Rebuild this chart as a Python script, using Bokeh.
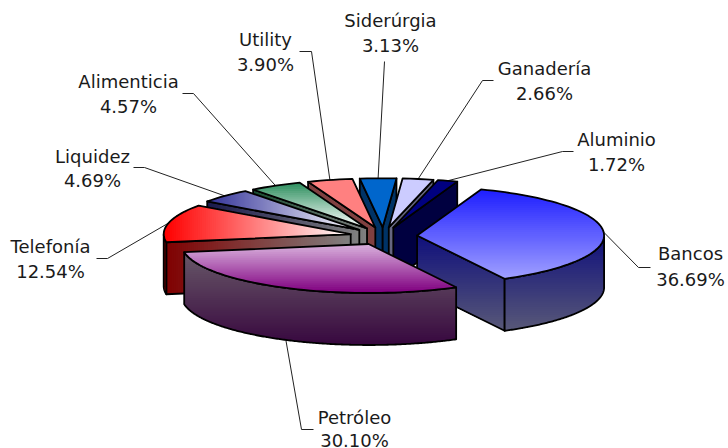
from math import cos, sin, radians
from bokeh.plotting import figure
from bokeh.models import Range1d, ColumnDataSource
from bokeh.core.properties import value
from bokeh.embed import file_html
from bokeh.resources import INLINE

# ---- data -------------------------------------------------------------
names = ["Bancos", "Petróleo", "Telefonía", "Liquidez", "Alimenticia",
         "Utility", "Siderúrgia", "Ganadería", "Aluminio"]
shares = [36.69, 30.10, 12.54, 4.69, 4.57, 3.90, 3.13, 2.66, 1.72]

# ---- style: (first colour, last colour, gradient axis) -------------------
top_fill = [("#1f1fff", "#9f9fff", "y"), ("#d8b0dc", "#800080", "y"),
            ("#ff0000", "#ffffff", "x"), ("#333399", "#ffffff", "x"),
            ("#2f9060", "#ffffff", "y"), ("#ff8080", "#ff8080", "y"),
            ("#0066cc", "#0066cc", "y"), ("#ccccff", "#ccccff", "y"),
            ("#000080", "#000080", "y")]
wall_fill = [("#10107c", "#585878", "y"), ("#685868", "#38083f", "y"),
             ("#800000", "#808080", "x"), ("#1a1a4d", "#808080", "x"),
             ("#184c30", "#808080", "x"), ("#804040", "#804040", "y"),
             ("#003366", "#003366", "y"), ("#666680", "#666680", "y"),
             ("#000040", "#000040", "y")]

# ---- layout -----------------------------------------------------------
W, H = 728, 448
CX, CY, RX, RY, DEPTH, EXPLODE, START = 383.0, 235.6, 187.0, 49.0, 52.0, 0.18, 70.0
label_x = [690, 354, 50, 92, 128, 265, 390, 544, 616]
label_y1 = [252.5, 417, 246, 156, 81, 38.5, 20, 67.5, 139]
line_gap = [26, 23, 25, 24, 25, 25, 25, 25, 25]
elbow_x = [638, 301, 107, 144, 193, 311, 384, 482, 562]
elbow_y = [267, 429, 258, 167, 93, 51, 61, 80, 151]
stub_x = [650, 313, 96, 133, 182, 299, 384, 493, 573]


def clip(poly, axis, limit):
    """Keep the part of a polygon whose axis coordinate is >= limit."""
    out = []
    n = len(poly)
    for i in range(n):
        a, b = poly[i], poly[(i + 1) % n]
        ina, inb = a[axis] >= limit, b[axis] >= limit
        if ina:
            out.append(a)
        if ina != inb:
            f = (limit - a[axis]) / (b[axis] - a[axis])
            out.append((a[0] + f * (b[0] - a[0]), a[1] + f * (b[1] - a[1])))
    return out


def mix(c0, c1, f):
    p = [int(c0[i:i + 2], 16) for i in (1, 3, 5)]
    q = [int(c1[i:i + 2], 16) for i in (1, 3, 5)]
    return "#%02x%02x%02x" % tuple(round(u + f * (v - u)) for u, v in zip(p, q))


xs, ys, fills, falpha, lalpha = [], [], [], [], []


def add(poly, color, fa, la):
    xs.append([q[0] for q in poly])
    ys.append([q[1] for q in poly])
    fills.append(color)
    falpha.append(fa)
    lalpha.append(la)


def shade(poly, style, span=None):
    c0, c1, ax = style
    axis = 0 if ax == "x" else 1
    coords = [q[axis] for q in poly]
    lo, hi = span if span else (min(coords), max(coords))
    n = 1 if c0 == c1 else max(2, int((hi - lo) / 2))
    for k in range(n):
        part = poly if k == 0 else clip(poly, axis, lo + (hi - lo) * k / n)
        if len(part) >= 3:
            add(part, mix(c0, c1, k / max(1, n - 1)), 1, 0)


total = sum(shares)
slices = []
angle = START
for i, s in enumerate(shares):
    sweep = s / total * 360
    slices.append((i, angle, angle - sweep))
    angle -= sweep


def mid_dist(item):
    m = (item[1] + item[2]) / 2
    return abs((m - 90 + 180) % 360 - 180)


geometry = {}
for i, t0, t1 in slices:
    tm = (t0 + t1) / 2
    ax = CX + EXPLODE * RX * cos(radians(tm))
    ay = CY - EXPLODE * RY * sin(radians(tm))
    geometry[i] = (ax, ay, tm)


def pt(ax, ay, t):
    return (ax + RX * cos(radians(t)), ay - RY * sin(radians(t)))


for i, t0, t1 in sorted(slices, key=mid_dist):
    ax, ay, tm = geometry[i]
    steps = max(4, int(abs(t0 - t1) / 2))
    arc = [pt(ax, ay, t0 + (t1 - t0) * k / steps) for k in range(steps + 1)]
    top = [(ax, ay)] + arc
    faces = []
    p0, p1 = arc[0], arc[-1]
    if cos(radians(t0)) < 0:
        faces.append([(ax, ay), p0, (p0[0], p0[1] + DEPTH), (ax, ay + DEPTH)])
    if cos(radians(t1)) > 0:
        faces.append([(ax, ay), p1, (p1[0], p1[1] + DEPTH), (ax, ay + DEPTH)])
    # outer wall: the part of the rim that faces the viewer
    rim = []
    for k in range(steps * 4 + 1):
        t = t0 + (t1 - t0) * k / (steps * 4)
        if sin(radians(t)) <= 0.0:
            rim.append(pt(ax, ay, t))
    if len(rim) > 1:
        faces.append(rim + [(q[0], q[1] + DEPTH) for q in reversed(rim)])
    # one gradient span over all the walls of the slice
    axis = 0 if wall_fill[i][2] == "x" else 1
    vals = [q[axis] for f in faces for q in f]
    for f in faces:
        shade(f, wall_fill[i], (min(vals), max(vals)))
        add(f, "#000000", 0, 1)
    shade(top, top_fill[i])
    add(top, "#000000", 0, 1)

p = figure(width=W, height=H, x_range=Range1d(0, W), y_range=Range1d(H, 0),
           x_axis_type=None, y_axis_type=None, toolbar_location=None,
           output_backend="svg", min_border=0, outline_line_color=None,
           background_fill_color="#ffffff", border_fill_color="#ffffff")
p.grid.visible = False

# leader lines, from the middle of each slice's rim to the label
lead_x, lead_y = [], []
for i, t0, t1 in slices:
    ax, ay, tm = geometry[i]
    sx, sy = pt(ax, ay, tm)
    if sin(radians(tm)) < 0:
        sy += DEPTH
    lead_x.append([sx, elbow_x[i], stub_x[i]])
    lead_y.append([sy, elbow_y[i], elbow_y[i]])
p.multi_line(lead_x, lead_y, line_color="#222222", line_width=1)

src = ColumnDataSource(dict(xs=xs, ys=ys, fill=fills, fa=falpha, la=lalpha))
p.patches("xs", "ys", source=src, fill_color="fill", fill_alpha="fa",
          line_color="#000000", line_alpha="la", line_width=1.8, line_join="round")

font = value("DejaVu Sans")
p.text(label_x, label_y1, text=names, text_font=font, text_font_size="18px",
       text_align="center", text_baseline="alphabetic", text_color="#1a1a1a")
p.text(label_x, [y + g for y, g in zip(label_y1, line_gap)],
       text=["%.2f%%" % s for s in shares], text_font=font, text_font_size="18px",
       text_align="center", text_baseline="alphabetic", text_color="#1a1a1a")

open("out.html", "w").write(file_html(p, INLINE))
